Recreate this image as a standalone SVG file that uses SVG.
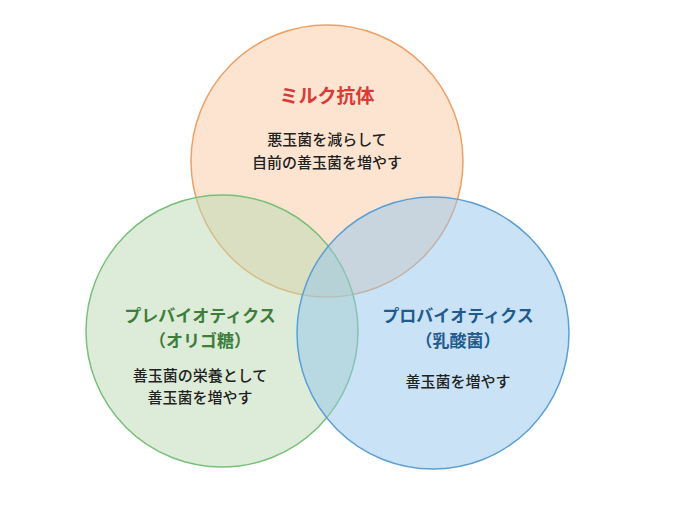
<svg xmlns="http://www.w3.org/2000/svg" width="676" height="506" viewBox="0 0 676 506">
<style>
text{font-family:"Noto Sans CJK JP","Noto Sans",sans-serif;text-anchor:middle;font-weight:bold}
.t{font-size:17px}
.b{font-size:15px;fill:#222;font-weight:500}
</style>
<rect width="676" height="506" fill="#fff"/>
<g id="milk">
<circle cx="327" cy="161" r="136" fill="#f9c9a4" fill-opacity="0.5" stroke="#eea064" stroke-width="1.5"/>
</g>
<g id="prebiotics">
<circle cx="222" cy="331" r="136" fill="#b9dab2" fill-opacity="0.5" stroke="#78bf78" stroke-width="1.5"/>
</g>
<g id="probiotics">
<circle cx="433" cy="333" r="136" fill="#93c6ec" fill-opacity="0.5" stroke="#5b9fd4" stroke-width="1.5"/>
</g>
<g id="labels">
<text class="t" x="327" y="103" fill="#d93a34" style="font-size:19px">ミルク抗体</text>
<text class="b" x="327" y="145">悪玉菌を減らして</text>
<text class="b" x="327" y="168">自前の善玉菌を増やす</text>
<text class="t" x="200" y="322" fill="#3f7d3c">プレバイオティクス</text>
<text class="t" x="200" y="347" fill="#3f7d3c">（オリゴ糖）</text>
<text class="b" x="200" y="381">善玉菌の栄養として</text>
<text class="b" x="200" y="403">善玉菌を増やす</text>
<text class="t" x="458" y="322" fill="#1f5b8e">プロバイオティクス</text>
<text class="t" x="458" y="347" fill="#1f5b8e">（乳酸菌）</text>
<text class="b" x="458" y="387">善玉菌を増やす</text>
</g>
<g id="connectors"/>
</svg>
